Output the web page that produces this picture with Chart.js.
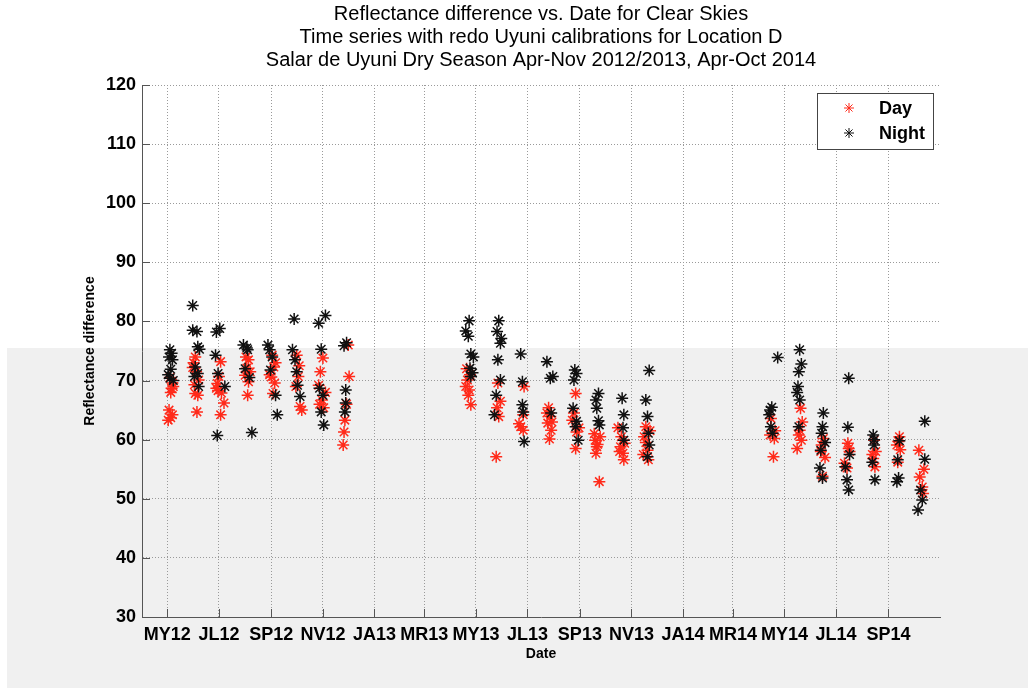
<!DOCTYPE html>
<html>
<head>
<meta charset="utf-8">
<script src="https://cdn.jsdelivr.net/npm/chart.js@4.4.1/dist/chart.umd.min.js"></script>
<style>
  html, body { margin: 0; padding: 0; background: #fff; }
</style>
</head>
<body>
<canvas id="grafico" width="1028" height="690"></canvas>
<script>
// x values are days counted from 1 Apr 2012
const tickDays = [30, 91, 153, 214, 275, 334, 395, 456, 518, 579, 640, 699, 760, 821, 883];
const tickLabels = ['MY12', 'JL12', 'SP12', 'NV12', 'JA13', 'MR13', 'MY13', 'JL13', 'SP13', 'NV13', 'JA14', 'MR14', 'MY14', 'JL14', 'SP14'];
const yTicks = [30, 40, 50, 60, 70, 80, 90, 100, 110, 120];

const dayDays = [
  33, 36, 35, 34, 32, 36, 31, 34, 37,
  63, 61, 64, 67, 62, 66, 63, 65, 60,
  93, 91, 88, 90, 94, 97, 93, 89,
  123, 126, 124, 122, 126, 125, 128,
  154, 156, 153, 157, 155, 151, 158,
  183, 185, 187, 189, 182, 186,
  214, 211, 213, 215, 209, 210, 217,
  244, 245, 240, 239, 238, 242,
  385, 383, 387, 386, 389, 384, 388,
  421, 420, 422, 419, 424,
  452, 451, 448, 451, 446,
  481, 483, 480, 484, 482, 485, 479,
  513, 511, 509, 514, 513, 517,
  536, 538, 537, 541, 542, 539, 535,
  563, 566, 569, 570, 567, 571, 565,
  596, 594, 598, 599, 601, 596, 593,
  744, 748, 747, 743, 749,
  779, 778, 775, 780, 777, 781,
  806, 804, 805, 808, 803,
  835, 836, 834, 837, 831,
  866, 868, 865, 867, 864,
  895, 893, 894, 897, 896,
  920, 923, 924, 919, 925
];
const dayValues = [
  70.5, 69.6, 68.7, 68.0, 65.0, 64.2, 63.3, 63.7, 69.0,
  74.0, 73.0, 71.5, 70.1, 69.3, 67.5, 67.8, 64.7, 72.2,
  73.2, 70.7, 68.7, 68.3, 67.9, 66.2, 64.2, 69.5,
  74.0, 73.5, 72.1, 70.9, 69.8, 67.5, 71.5,
  74.3, 72.3, 70.6, 69.6, 67.8, 71.0, 73.0,
  74.3, 70.7, 65.6, 65.0, 69.0, 72.5,
  73.8, 71.5, 66.7, 65.4, 69.2, 66.0, 68.0,
  76.0, 70.7, 63.3, 61.3, 59.1, 66.0,
  70.1, 69.0, 68.4, 67.5, 65.9, 72.0, 71.0,
  69.6, 65.4, 63.9, 57.1, 66.5,
  69.0, 64.2, 62.2, 61.6, 62.7,
  65.4, 63.9, 62.8, 61.6, 60.1, 63.0, 64.5,
  67.8, 64.5, 63.3, 61.3, 58.5, 62.0,
  59.9, 58.8, 57.7, 52.9, 60.5, 59.2, 61.0,
  62.0, 58.8, 57.7, 56.6, 60.5, 59.4, 58.0,
  62.2, 60.5, 58.2, 56.6, 61.5, 59.5, 57.5,
  63.6, 60.2, 57.1, 60.8, 61.5,
  65.3, 61.6, 58.5, 59.9, 60.8, 63.0,
  60.2, 59.1, 53.8, 57.0, 58.0,
  59.4, 58.5, 55.2, 58.0, 56.0,
  59.9, 58.0, 56.8, 55.4, 57.5,
  59.7, 59.1, 56.2, 58.3, 60.5,
  53.7, 52.0, 50.9, 58.2, 55.0
];

const nightDays = [
  33, 35, 32, 36, 34, 31, 33, 37,
  60, 60, 65, 66, 68, 63, 66, 62, 67,
  88, 92, 87, 90, 98, 89,
  120, 124, 125, 122, 127, 130,
  149, 151, 154, 152, 158, 160,
  180, 178, 181, 183, 184, 187,
  209, 217, 212, 210, 214, 212, 215,
  242, 239, 241, 241, 240,
  387, 383, 386, 389, 388, 391, 389, 392,
  422, 420, 425, 424, 421, 424, 419, 417,
  448, 450, 450, 451, 452,
  479, 483, 486, 484,
  512, 514, 511, 510, 514, 513, 516,
  540, 537, 538, 540, 541,
  568, 570, 569, 570,
  600, 596, 598, 599, 600, 598,
  752, 745, 743, 744, 746, 742,
  778, 780, 777, 776, 778, 775, 777,
  806, 805, 804, 803, 802, 805, 808,
  836, 835, 832, 834, 836, 837,
  865, 866, 864, 867, 866,
  894, 893, 896, 895,
  926, 926, 923, 918, 921
];
const nightValues = [
  75.2, 74.6, 74.0, 73.5, 71.9, 71.0, 70.4, 70.0,
  82.7, 78.5, 78.3, 75.7, 75.3, 72.3, 71.2, 70.7, 69.0,
  78.2, 78.8, 74.3, 71.2, 69.0, 60.7,
  76.0, 75.5, 75.2, 72.0, 70.5, 61.2,
  76.0, 75.2, 74.0, 71.8, 67.5, 64.2,
  80.4, 75.2, 73.5, 71.5, 69.2, 67.3,
  79.7, 81.0, 75.3, 68.7, 67.5, 64.7, 62.5,
  76.4, 75.9, 68.4, 66.2, 64.7,
  80.1, 78.4, 77.5, 74.5, 72.1, 71.3, 70.7, 74.0,
  80.1, 78.3, 77.1, 76.3, 73.5, 70.1, 67.5, 64.2,
  74.5, 69.8, 65.9, 64.7, 59.7,
  73.2, 70.4, 70.7, 64.5,
  71.8, 71.2, 70.1, 65.3, 63.1, 62.2, 59.9,
  67.8, 66.7, 65.3, 63.2, 62.5,
  67.0, 64.2, 62.0, 59.9,
  71.7, 66.7, 63.9, 61.1, 59.1, 57.1,
  73.9, 65.5, 65.0, 62.2, 61.1, 64.2,
  75.2, 72.8, 71.5, 69.0, 66.7, 68.0, 62.2,
  64.5, 62.2, 61.1, 58.2, 55.2, 53.5, 59.5,
  70.4, 62.1, 55.4, 53.2, 51.5, 57.5,
  60.8, 59.1, 56.2, 53.2, 60.0,
  56.6, 52.9, 59.8, 53.5,
  63.1, 56.7, 49.8, 48.1, 51.5
];

const toPoints = (xs, ys) => xs.map((x, i) => ({ x: x, y: ys[i] }));

const fundoCinza = {
  id: 'fundoCinza',
  beforeDraw(chart) {
    const ctx = chart.ctx;
    ctx.save();
    ctx.fillStyle = '#ffffff';
    ctx.fillRect(0, 0, chart.width, chart.height);
    ctx.fillStyle = '#f0f0f0';
    ctx.fillRect(7, 348, chart.width - 7, 340);
    ctx.restore();
  }
};

// ticks drawn inside the axes, legend box inside the plot
const marcas = {
  id: 'marcas',
  afterDraw(chart) {
    const ctx = chart.ctx;
    const { left, bottom } = chart.chartArea;
    const sx = chart.scales.x, sy = chart.scales.y;
    ctx.save();
    ctx.strokeStyle = '#555';
    ctx.lineWidth = 1;
    ctx.beginPath();
    tickDays.forEach(d => {
      const px = Math.round(sx.getPixelForValue(d)) + 0.5;
      ctx.moveTo(px, bottom);
      ctx.lineTo(px, bottom - 8);
    });
    yTicks.forEach(v => {
      const py = Math.round(sy.getPixelForValue(v)) + 0.5;
      ctx.moveTo(left, py);
      ctx.lineTo(left + 8, py);
    });
    ctx.stroke();

    ctx.fillStyle = '#fff';
    ctx.fillRect(817, 93, 116, 56);
    ctx.strokeStyle = '#444';
    ctx.strokeRect(817.5, 93.5, 116, 56);
    ctx.font = 'bold 18px "Liberation Sans", Arial, sans-serif';
    ctx.textBaseline = 'middle';
    ctx.fillStyle = '#000';
    chart.data.datasets.forEach((ds, i) => {
      const y = i === 0 ? 108 : 133;
      ctx.strokeStyle = ds.borderColor;
      Chart.helpers.drawPoint(ctx, { pointStyle: 'star', radius: 5, borderWidth: 1.4 }, 849, y);
      ctx.fillText(ds.label, 879, y + 1);
    });
    ctx.restore();
  }
};

const ctx = document.getElementById('grafico').getContext('2d');
const grafico = new Chart(ctx, {
  type: 'scatter',
  data: {
    datasets: [{
      label: 'Day',
      data: toPoints(dayDays, dayValues),
      borderColor: '#ff2a1a',
      backgroundColor: '#ff2a1a',
      pointStyle: 'star',
      pointRadius: 6,
      borderWidth: 1.5,
      order: 2
    },
    {
      label: 'Night',
      data: toPoints(nightDays, nightValues),
      borderColor: '#111111',
      backgroundColor: '#111111',
      pointStyle: 'star',
      pointRadius: 6,
      borderWidth: 1.5,
      order: 1
    }]
  },
  plugins: [fundoCinza, marcas],
  options: {
    responsive: false,
    animation: false,
    layout: { padding: { top: 0, right: 88, bottom: 0, left: 0 } },
    plugins: {
      legend: { display: false },
      tooltip: { enabled: false },
      title: {
        display: true,
        fullSize: false,
        text: [
          'Reflectance difference vs. Date for Clear Skies',
          'Time series with redo Uyuni calibrations for Location D',
          'Salar de Uyuni Dry Season Apr-Nov 2012/2013, Apr-Oct 2014'
        ],
        color: '#000',
        font: { family: '"Liberation Sans", Arial, sans-serif', size: 20, weight: 'normal', lineHeight: 23 / 20 },
        padding: { top: 3, bottom: 13 }
      }
    },
    scales: {
      x: {
        type: 'linear',
        min: 0,
        max: 944,
        afterBuildTicks: (axis) => { axis.ticks = tickDays.map(v => ({ value: v })); },
        afterFit: (s) => { s.height = 73; },
        ticks: {
          autoSkip: false,
          maxRotation: 0,
          padding: 7,
          color: '#000',
          font: { family: '"Liberation Sans", Arial, sans-serif', size: 18, weight: 'bold' },
          callback: (value, index) => tickLabels[index]
        },
        grid: { color: '#9a9a9a', drawTicks: false },
        border: { display: true, color: '#555', width: 1, dash: [1, 2] },
        title: {
          display: true,
          text: 'Date',
          color: '#000',
          font: { family: '"Liberation Sans", Arial, sans-serif', size: 14, weight: 'bold' },
          padding: { top: 0, bottom: 27 }
        }
      },
      y: {
        min: 30,
        max: 120,
        afterBuildTicks: (axis) => { axis.ticks = yTicks.map(v => ({ value: v })); },
        afterFit: (s) => { s.width = 142; },
        ticks: {
          padding: 6,
          color: '#000',
          font: { family: '"Liberation Sans", Arial, sans-serif', size: 18, weight: 'bold' }
        },
        grid: { color: '#9a9a9a', drawTicks: false },
        border: { display: true, color: '#555', width: 1, dash: [1, 2] },
        title: {
          display: true,
          text: 'Reflectance difference',
          color: '#000',
          font: { family: '"Liberation Sans", Arial, sans-serif', size: 14, weight: 'bold' },
          padding: { top: 82, bottom: 0 }
        }
      }
    }
  }
});
</script>
</body>
</html>
